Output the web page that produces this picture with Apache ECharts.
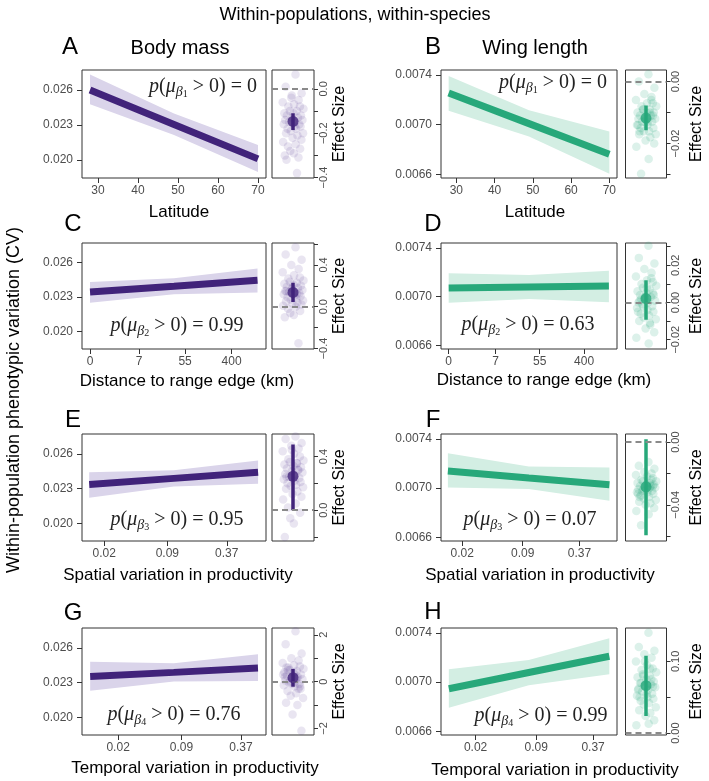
<!DOCTYPE html>
<html>
<head>
<meta charset="utf-8">
<script src="https://cdn.jsdelivr.net/npm/echarts@6/dist/echarts.min.js"></script>
<style>
  html, body { margin: 0; padding: 0; background: #fff; }
  #chart { width: 709px; height: 781px; }
</style>
</head>
<body>
<div id="chart"></div>
<script>
const latX = [28, 49, 70];
const distX = [0, 34, 1200];        // km, drawn on log(1 + x)
const spatX = [0.014, 0.105, 0.78]; // drawn on log(x)
const tempX = [0.0103, 0.075, 0.554];

// body mass CV: fit, lower, upper
const fitA = [0.0260, 0.02305, 0.0201];
const loA = [0.02478, 0.02215, 0.01898];
const hiA = [0.02733, 0.02400, 0.0213];
const fitC = [0.02344, 0.02395, 0.02447];
const loC = [0.02250, 0.02325, 0.02340];
const hiC = [0.02431, 0.02465, 0.02550];
const fitE = [0.02335, 0.02388, 0.02441];
const loE = [0.0222, 0.02318, 0.02342];
const hiE = [0.0244, 0.02458, 0.02543];
const fitG = [0.02352, 0.02388, 0.02425];
const loG = [0.02228, 0.0231, 0.02314];
const hiG = [0.0248, 0.02466, 0.02545];

// wing length CV
const fitB = [0.007254, 0.007008, 0.006762];
const loB = [0.007112, 0.006905, 0.006605];
const hiB = [0.007392, 0.007115, 0.006944];
const fitD = [0.00707, 0.007079, 0.007088];
const loD = [0.00695, 0.00698, 0.006953];
const hiD = [0.007192, 0.007178, 0.007213];
const fitF = [0.00714, 0.007083, 0.007027];
const loF = [0.007005, 0.006993, 0.006897];
const hiF = [0.007284, 0.007175, 0.007167];
const fitH = [0.006946, 0.007078, 0.0072104];
const loH = [0.006792, 0.006975, 0.007064];
const hiH = [0.007104, 0.00718, 0.007357];

// species-level effect sizes (side panels)
const jitter = [0.12, -0.35, 0.41, -0.08, 0.27, -0.49, 0.05, 0.33, -0.22, 0.50, -0.15, 0.18, -0.41, 0.02, 0.38,
  -0.29, 0.24, -0.05, 0.45, -0.37, 0.10, -0.19, 0.30, -0.44, 0.07, 0.36, -0.26, 0.15, -0.11, 0.48,
  -0.33, 0.21, -0.02, 0.40, -0.47, 0.13, -0.24, 0.34, -0.13, 0.04, -0.39, 0.26, -0.31, 0.19, -0.06];
const effA = [0.065, 0.01, -0.02, -0.04, -0.05, -0.06, -0.07, -0.08, -0.08, -0.09, -0.10, -0.10, -0.11, -0.11, -0.12,
  -0.12, -0.13, -0.13, -0.14, -0.14, -0.15, -0.15, -0.16, -0.16, -0.17, -0.17, -0.18, -0.18, -0.19, -0.20,
  -0.20, -0.21, -0.22, -0.23, -0.24, -0.25, -0.26, -0.27, -0.28, -0.29, -0.30, -0.31, -0.32, -0.38, -0.03];
const effC = [0.57, 0.50, 0.45, 0.40, 0.36, 0.33, 0.30, 0.28, 0.27, 0.25, 0.24, 0.23, 0.22, 0.21, 0.20,
  0.19, 0.18, 0.17, 0.16, 0.15, 0.14, 0.14, 0.13, 0.12, 0.11, 0.10, 0.09, 0.08, 0.07, 0.06,
  0.05, 0.04, 0.03, 0.02, 0.01, 0.0, -0.02, -0.04, -0.06, -0.08, -0.10, -0.35, 0.15, 0.12, 0.18];
const effE = [0.55, 0.53, 0.50, 0.48, 0.46, 0.44, 0.42, 0.40, 0.38, 0.37, 0.36, 0.35, 0.34, 0.33, 0.32,
  0.31, 0.30, 0.29, 0.28, 0.27, 0.26, 0.25, 0.24, 0.23, 0.22, 0.21, 0.20, 0.19, 0.18, 0.17,
  0.16, 0.14, 0.12, 0.10, 0.08, 0.05, 0.02, -0.02, -0.06, -0.10, -0.2, 0.30, 0.25, 0.35, 0.45];
const effG = [2.15, 1.6, 1.2, 1.0, 0.9, 0.8, 0.7, 0.65, 0.6, 0.55, 0.5, 0.45, 0.4, 0.35, 0.3,
  0.25, 0.2, 0.15, 0.1, 0.05, 0.0, -0.05, -0.1, -0.15, -0.2, -0.3, -0.4, -0.5, -0.6, -0.7,
  -0.9, -1.0, -1.4, -2.1, 0.3, 0.1, 0.5, -0.2, 0.0, 0.4, 0.2, -0.3, 0.6, 0.15, -0.1];
const effB = [0.0023, 0.0, -0.002, -0.004, -0.005, -0.006, -0.007, -0.007, -0.008, -0.008, -0.009, -0.009, -0.010, -0.010, -0.010,
  -0.011, -0.011, -0.012, -0.012, -0.012, -0.013, -0.013, -0.013, -0.014, -0.014, -0.015, -0.015, -0.016, -0.016, -0.017,
  -0.017, -0.018, -0.019, -0.020, -0.021, -0.025, -0.0297, -0.011, -0.009, -0.012, -0.014, -0.006, -0.016, -0.010, -0.013];
const effD = [0.0305, 0.024, 0.021, 0.018, 0.016, 0.014, 0.012, 0.011, 0.010, 0.009, 0.008, 0.007, 0.006, 0.005, 0.004,
  0.004, 0.003, 0.002, 0.001, 0.0, 0.0, -0.001, -0.002, -0.003, -0.004, -0.005, -0.006, -0.007, -0.008, -0.009,
  -0.010, -0.012, -0.014, -0.016, -0.019, -0.022, 0.002, 0.005, -0.002, 0.008, -0.005, 0.013, 0.001, -0.011, 0.003];
const effF = [-0.0126, -0.015, -0.017, -0.019, -0.020, -0.021, -0.022, -0.023, -0.024, -0.025, -0.025, -0.026, -0.026, -0.027, -0.027,
  -0.028, -0.028, -0.029, -0.029, -0.030, -0.030, -0.031, -0.031, -0.032, -0.032, -0.033, -0.034, -0.035, -0.036, -0.037,
  -0.038, -0.039, -0.040, -0.042, -0.044, -0.046, -0.053, -0.028, -0.030, -0.027, -0.033, -0.024, -0.035, -0.029, -0.031];
const effH = [0.14, 0.12, 0.115, 0.11, 0.105, 0.10, 0.095, 0.09, 0.088, 0.085, 0.082, 0.08, 0.078, 0.075, 0.072,
  0.07, 0.068, 0.066, 0.064, 0.062, 0.06, 0.058, 0.055, 0.052, 0.05, 0.048, 0.045, 0.042, 0.04, 0.036,
  0.032, 0.028, 0.024, 0.018, 0.011, 0.013, 0.07, 0.065, 0.08, 0.055, 0.06, 0.075, 0.05, 0.09, 0.1];

// posterior mean, lower, upper of mu_beta
const estA = [-0.147, -0.185, -0.11];
const estC = [0.137, 0.044, 0.23];
const estE = [0.253, 0.0, 0.49];
const estG = [0.17, -0.22, 0.54];
const estB = [-0.0118, -0.0157, -0.0077];
const estD = [0.0021, -0.0093, 0.012];
const estF = [-0.0285, -0.0594, 0.0019];
const estH = [0.0662, 0.024, 0.108];

const pBody = ['0', '0.99', '0.95', '0.76'];
const pWing = ['0', '0.63', '0.07', '0.99'];

// tick labels
const latTicks = [30, 40, 50, 60, 70];
const distTicks = [0, 7, 55, 400];
const prodTicks = [0.02, 0.09, 0.37];
const bodyTicks = [0.020, 0.023, 0.026];
const wingTicks = [0.0066, 0.0070, 0.0074];
const xTitles = ['Latitude', 'Distance to range edge (km)', 'Spatial variation in productivity', 'Temporal variation in productivity'];

const PURPLE = '#41237a', PURPLE_BAND = '#dad4ea', PURPLE_PT = 'rgba(85,55,145,0.16)';
const GREEN = '#27a87a', GREEN_BAND = '#d3eee3', GREEN_PT = 'rgba(38,168,122,0.2)';
const AX = '#333', LAB = '#4d4d4d';
const SANS = 'Liberation Sans, Arial, sans-serif';
const SERIF = 'Liberation Serif, DejaVu Serif, serif';

const tx = [v => v, v => Math.log1p(v), v => Math.log(v), v => Math.log(v)];
const rowX = [latX, distX, spatX, tempX];
const rowTicks = [latTicks, distTicks, prodTicks, prodTicks];
const rowXRange = [[26, 72], [-0.34, 7.45], [-4.44, -0.06], [-4.77, -0.40]];
const rowTop = [70, 243, 434, 628];
const rowH = [108, 106, 107, 107];
const mainLeft = [82, 441], mainW = [184, 176];
const sideLeft = [272, 625.5], sideW = [42, 41];

// side axes: [min, max], tick values, labelled values, decimals
const sideAxes = {
  A: [[-0.402, 0.085], [-0.4, -0.3, -0.2, -0.1, 0], [-0.4, -0.2, 0], 1],
  C: [[-0.405, 0.61], [-0.4, -0.2, 0, 0.2, 0.4, 0.6], [-0.4, 0, 0.4], 1],
  E: [[-0.23, 0.568], [-0.2, 0, 0.2, 0.4], [0, 0.4], 1],
  G: [[-2.28, 2.29], [-2, -1, 0, 1, 2], [-2, 0, 2], 0],
  B: [[-0.0311, 0.0037], [-0.03, -0.02, -0.01, 0], [-0.02, 0], 2],
  D: [[-0.025, 0.032], [-0.02, -0.01, 0, 0.01, 0.02, 0.03], [-0.02, 0, 0.02], 2],
  F: [[-0.0631, 0.0052], [-0.06, -0.04, -0.02, 0], [-0.04, 0], 2],
  H: [[-0.0026, 0.1466], [0, 0.05, 0.10], [0, 0.10], 2]
};

const panels = [
  ['A', 0, 0, fitA, loA, hiA, effA, estA], ['B', 1, 0, fitB, loB, hiB, effB, estB],
  ['C', 0, 1, fitC, loC, hiC, effC, estC], ['D', 1, 1, fitD, loD, hiD, effD, estD],
  ['E', 0, 2, fitE, loE, hiE, effE, estE], ['F', 1, 2, fitF, loF, hiF, effF, estF],
  ['G', 0, 3, fitG, loG, hiG, effG, estG], ['H', 1, 3, fitH, loH, hiH, effH, estH]
];

function fmtSigned(v, dec) {
  if (Math.abs(v) < 1e-12) return (0).toFixed(dec);
  return (v < 0 ? '\u2212' : '') + Math.abs(v).toFixed(dec);
}

const grids = [], xAxes = [], yAxes = [], series = [];

panels.forEach(function (p) {
  const key = p[0], col = p[1], row = p[2];
  const fit = p[3], lo = p[4], hi = p[5], eff = p[6], est = p[7];
  const f = tx[row], xs = rowX[row];
  const body = col === 0;
  const lineColor = body ? PURPLE : GREEN;
  const bandColor = body ? PURPLE_BAND : GREEN_BAND;
  const ptColor = body ? PURPLE_PT : GREEN_PT;
  const yTicks = body ? bodyTicks : wingTicks;
  const yRange = body ? [0.01846, 0.02772] : [0.00657, 0.00744];
  const xt = rowTicks[row];
  const xtPos = xt.map(f);

  // main panel
  const gi = grids.length;
  grids.push({ left: mainLeft[col], top: rowTop[row], width: mainW[col], height: rowH[row],
    show: true, borderColor: AX, borderWidth: 1, backgroundColor: '#fff' });
  xAxes.push({
    gridIndex: gi, type: 'value', min: rowXRange[row][0], max: rowXRange[row][1],
    axisLine: { show: false, onZero: false }, splitLine: { show: false },
    axisTick: { show: true, length: 5, customValues: xtPos, lineStyle: { color: AX } },
    axisLabel: { customValues: xtPos, color: LAB, fontSize: 12, fontFamily: SANS, margin: 7,
      formatter: function (v) {
        const i = xtPos.findIndex(t => Math.abs(t - v) < 1e-6);
        return i < 0 ? '' : String(xt[i]);
      } }
  });
  yAxes.push({
    gridIndex: gi, type: 'value', min: yRange[0], max: yRange[1],
    axisLine: { show: false, onZero: false }, splitLine: { show: false },
    axisTick: { show: true, length: 5, customValues: yTicks, lineStyle: { color: AX } },
    axisLabel: { customValues: yTicks, color: LAB, fontSize: 12, fontFamily: SANS, margin: 9,
      formatter: v => v.toFixed(body ? 3 : 4) }
  });
  const bandData = xs.map((x, i) => [f(x), lo[i], hi[i]]);
  series.push({
    type: 'custom', xAxisIndex: gi, yAxisIndex: gi, silent: true, z: 1,
    data: bandData, encode: { x: 0, y: [1, 2] },
    renderItem: function (params, api) {
      if (params.dataIndex !== 0) return null;
      const pts = [];
      bandData.forEach(d => pts.push(api.coord([d[0], d[1]])));
      bandData.slice().reverse().forEach(d => pts.push(api.coord([d[0], d[2]])));
      return { type: 'polygon', shape: { points: pts }, style: { fill: bandColor } };
    }
  });
  series.push({
    type: 'line', xAxisIndex: gi, yAxisIndex: gi, z: 3, silent: true,
    data: xs.map((x, i) => [f(x), fit[i]]), symbol: 'none',
    lineStyle: { width: 7, color: lineColor }
  });

  // side panel with species effect sizes
  const si = grids.length;
  const sa = sideAxes[key];
  grids.push({ left: sideLeft[col], top: rowTop[row], width: sideW[col], height: rowH[row],
    show: true, borderColor: AX, borderWidth: 1, backgroundColor: '#fff' });
  xAxes.push({ gridIndex: si, type: 'value', min: -1, max: 1, show: false, axisLine: { onZero: false } });
  yAxes.push({
    gridIndex: si, type: 'value', position: 'right', min: sa[0][0], max: sa[0][1],
    axisLine: { show: false, onZero: false }, splitLine: { show: false },
    axisTick: { show: true, length: 4, customValues: sa[1], lineStyle: { color: AX } },
    axisLabel: { customValues: sa[2], rotate: 90, color: LAB, fontSize: 11, fontFamily: SANS, margin: 4,
      formatter: v => fmtSigned(v, sa[3]) }
  });
  series.push({
    type: 'scatter', xAxisIndex: si, yAxisIndex: si, z: 2, silent: true,
    data: eff.map((v, i) => [jitter[i % jitter.length], v]),
    symbolSize: 8.5, itemStyle: { color: ptColor }
  });
  series.push({
    type: 'line', xAxisIndex: si, yAxisIndex: si, z: 4, silent: true,
    data: [[0, est[1]], [0, est[2]]], symbol: 'none',
    lineStyle: { width: 3.5, color: lineColor },
    markLine: { silent: true, symbol: ['none', 'none'], label: { show: false },
      lineStyle: { type: [6, 4], color: '#8a8a8a', width: 1.8 }, data: [{ yAxis: 0 }] }
  });
  series.push({
    type: 'scatter', xAxisIndex: si, yAxisIndex: si, z: 5, silent: true,
    data: [[0, est[0]]], symbolSize: 11, itemStyle: { color: lineColor }
  });
});

function txt(x, y, text, size, extra) {
  return Object.assign({ type: 'text', x: x, y: y, silent: true,
    style: { text: text, fontSize: size, fontFamily: SANS, fill: '#000',
      textAlign: 'center', textVerticalAlign: 'middle', align: 'center', verticalAlign: 'middle' } }, extra || {});
}

function pLabel(x, y, k, val) {
  return {
    type: 'text', x: x, y: y, silent: true,
    style: {
      text: '{i|p}(' + '{i|\u03bc}{sb|\u03b2}{ss|' + k + '}' + ' > 0) = ' + val,
      fontFamily: SERIF, fontSize: 20, lineHeight: 24, fill: '#222',
      textAlign: 'center', textVerticalAlign: 'middle', align: 'center', verticalAlign: 'middle',
      rich: {
        i: { fontStyle: 'italic', fontFamily: SERIF, fontSize: 20, lineHeight: 24 },
        sb: { fontStyle: 'italic', fontFamily: SERIF, fontSize: 14, lineHeight: 13, verticalAlign: 'bottom' },
        ss: { fontFamily: SERIF, fontSize: 10, lineHeight: 7, verticalAlign: 'bottom' }
      }
    }
  };
}

const graphic = [
  txt(355, 15, 'Within-populations, within-species', 18),
  txt(180, 48, 'Body mass', 20), txt(535, 48, 'Wing length', 20),
  txt(14, 400, 'Within-population phenotypic variation (CV)', 18, { rotation: Math.PI / 2 })
];
const letterPos = { A: [70, 47], B: [433, 47], C: [73, 224], D: [433, 224], E: [73, 420], F: [433, 420], G: [73, 613], H: [433, 612] };
Object.keys(letterPos).forEach(k => graphic.push(txt(letterPos[k][0], letterPos[k][1], k, 24)));
const titlePos = [[[179, 212], [535, 212]], [[187, 381], [544, 380]], [[178, 575], [540, 575]], [[195, 768], [555, 770]]];
titlePos.forEach((r, i) => r.forEach(pt => graphic.push(txt(pt[0], pt[1], xTitles[i], 17))));
for (let r = 0; r < 4; r++) {
  const cy = rowTop[r] + rowH[r] / 2;
  graphic.push(txt(340, cy, 'Effect Size', 16, { rotation: Math.PI / 2 }));
  graphic.push(txt(697, cy, 'Effect Size', 16, { rotation: Math.PI / 2 }));
}
const pPos = [[[203, 87], [553, 83]], [[177, 326], [528, 325]], [[177, 520], [530, 520]], [[174, 715], [541, 716]]];
pPos.forEach((r, i) => {
  graphic.push(pLabel(r[0][0], r[0][1], i + 1, pBody[i]));
  graphic.push(pLabel(r[1][0], r[1][1], i + 1, pWing[i]));
});

const chart = echarts.init(document.getElementById('chart'));
chart.setOption({
  animation: false,
  backgroundColor: '#fff',
  grid: grids,
  xAxis: xAxes,
  yAxis: yAxes,
  series: series,
  graphic: graphic
});
</script>
</body>
</html>
